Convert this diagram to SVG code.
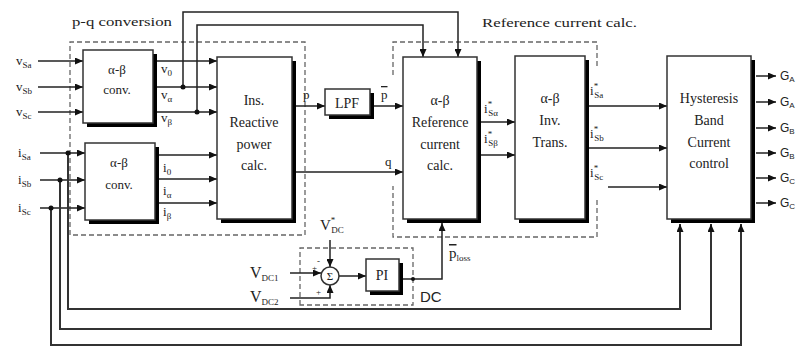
<svg xmlns="http://www.w3.org/2000/svg" width="804" height="348" viewBox="0 0 804 348">
<defs>
<marker id="ah" viewBox="0 0 8 7" refX="8" refY="3.5" markerWidth="8" markerHeight="7" markerUnits="userSpaceOnUse" orient="auto">
<path d="M0,0 L8,3.5 L0,7 z" fill="#111"/>
</marker>
<style>
text{font-family:"Liberation Serif","Times New Roman",serif;fill:#222}
.bt{font-size:14px;text-anchor:middle}
.ct{font-size:13px;text-anchor:middle}
.lb{font-size:13px}
.sb{font-size:9px}
.box{fill:#fff;stroke:#333;stroke-width:1.5}
.sh{fill:#000}
.ln{fill:none;stroke:#222;stroke-width:1.5}
.ar{fill:none;stroke:#222;stroke-width:1.5;marker-end:url(#ah)}
.fb{fill:none;stroke:#333;stroke-width:2;marker-end:url(#ah)}
.ds{fill:none;stroke:#666;stroke-width:1.3;stroke-dasharray:5,3}
.dot{fill:#111}
.sans{font-family:"Liberation Sans",Arial,sans-serif}
</style>
</defs>
<rect width="804" height="348" fill="#fff"/>

<g id="groups">
<path class="ds" d="M70,235 V42 H305 V235 Z"/>
<text class="lb" x="72" y="26" textLength="100" lengthAdjust="spacingAndGlyphs">p-q conversion</text>
<path class="ds" d="M393,75 V42 H597 V68 M597,200 V237 H393 V186"/>
<text class="lb" x="482" y="27" textLength="155" lengthAdjust="spacingAndGlyphs">Reference current calc.</text>
<path class="ds" d="M300,305 V248 H413 V305 Z"/>
<text class="sans" x="420" y="302" font-size="15" fill="#333">DC</text>
</g>

<g id="connectors">
<!-- voltage inputs -->
<path class="ar" d="M38,61 H83"/>
<path class="ar" d="M38,87 H83"/>
<path class="ar" d="M38,112 H83"/>
<!-- current inputs -->
<path class="ar" d="M40,153 H85"/>
<path class="ar" d="M40,180 H85"/>
<path class="ar" d="M40,208 H85"/>
<!-- conv1 outputs -->
<path class="ar" d="M157,61 H217"/>
<path class="ar" d="M157,87 H217"/>
<path class="ar" d="M157,112 H217"/>
<!-- conv2 outputs -->
<path class="ar" d="M159,155 H217"/>
<path class="ar" d="M159,179 H217"/>
<path class="ar" d="M159,203 H217"/>
<!-- voltage taps to reference calc -->
<path class="ar" d="M183,87 V12 H458 V57"/>
<path class="ar" d="M197,112 V25 H423 V57"/>
<circle class="dot" cx="183" cy="87" r="2.5"/>
<circle class="dot" cx="197" cy="112" r="2.5"/>
<!-- p, p-bar, q -->
<path class="ar" d="M296,106 H325"/>
<path class="ar" d="M374,106 H403"/>
<path class="ar" d="M296,172 H403"/>
<!-- reference outputs -->
<path class="ar" d="M481,122 H515"/>
<path class="ar" d="M481,155 H515"/>
<!-- inverse transform outputs -->
<path class="ar" d="M589,106 H667"/>
<path class="ar" d="M589,148 H667"/>
<path class="ar" d="M608,187 H667"/>
<!-- gate outputs -->
<path class="ar" d="M756,76 H776"/>
<path class="ar" d="M756,102 H776"/>
<path class="ar" d="M756,128 H776"/>
<path class="ar" d="M756,153 H776"/>
<path class="ar" d="M756,178 H776"/>
<path class="ar" d="M756,203 H776"/>
<!-- current feedback -->
<path class="fb" d="M68,153 V309 H680 V224"/>
<path class="fb" d="M60,180 V329 H711 V224"/>
<path class="fb" d="M51,208 V345 H741 V224"/>
<circle class="dot" cx="68" cy="153" r="2.5"/>
<circle class="dot" cx="60" cy="180" r="2.5"/>
<circle class="dot" cx="51" cy="208" r="2.5"/>
<!-- DC loop -->
<path class="ar" d="M330,240 V267"/>
<path class="ar" d="M290,273 H321"/>
<path class="ar" d="M290,298 H330 V285"/>
<path class="ar" d="M339,276 H366"/>
<path class="ar" d="M403,279 H442 V223"/>
<circle class="dot" cx="413" cy="279" r="2"/>
</g>

<g id="labels">
<text class="lb" x="16" y="65">v<tspan class="sb" dy="3">Sa</tspan></text>
<text class="lb" x="16" y="91">v<tspan class="sb" dy="3">Sb</tspan></text>
<text class="lb" x="16" y="116">v<tspan class="sb" dy="3">Sc</tspan></text>
<text class="lb" x="18" y="157">i<tspan class="sb" dy="3">Sa</tspan></text>
<text class="lb" x="18" y="184">i<tspan class="sb" dy="3">Sb</tspan></text>
<text class="lb" x="18" y="212">i<tspan class="sb" dy="3">Sc</tspan></text>
<text class="lb" x="161" y="73">v<tspan class="sb" dy="3">0</tspan></text>
<text class="lb" x="161" y="99">v<tspan class="sb" dy="3">α</tspan></text>
<text class="lb" x="161" y="122">v<tspan class="sb" dy="3">β</tspan></text>
<text class="lb" x="163" y="172">i<tspan class="sb" dy="3">0</tspan></text>
<text class="lb" x="163" y="195">i<tspan class="sb" dy="3">α</tspan></text>
<text class="lb" x="163" y="216">i<tspan class="sb" dy="3">β</tspan></text>
<text class="lb" x="303" y="99">p</text>
<text class="lb" x="381" y="99" style="text-decoration:overline">p</text>
<text class="lb" x="385" y="166">q</text>
<text class="lb" x="484" y="113">i<tspan class="sb" dy="-6">*</tspan><tspan class="sb" dx="-4" dy="9">Sα</tspan></text>
<text class="lb" x="484" y="143">i<tspan class="sb" dy="-6">*</tspan><tspan class="sb" dx="-4" dy="9">Sβ</tspan></text>
<text class="lb" x="590" y="95">i<tspan class="sb" dy="-6">*</tspan><tspan class="sb" dx="-4" dy="9">Sa</tspan></text>
<text class="lb" x="590" y="138">i<tspan class="sb" dy="-6">*</tspan><tspan class="sb" dx="-4" dy="9">Sb</tspan></text>
<text class="lb" x="590" y="177">i<tspan class="sb" dy="-6">*</tspan><tspan class="sb" dx="-4" dy="9">Sc</tspan></text>
<text x="320" y="230" font-size="15">V<tspan class="sb" dy="-7">*</tspan><tspan class="sb" dx="-4" dy="10">DC</tspan></text>
<text x="250" y="278" font-size="16">V<tspan class="sb" dy="3">DC1</tspan></text>
<text x="250" y="302" font-size="16">V<tspan class="sb" dy="3">DC2</tspan></text>
<text x="317" y="264" font-size="9">-</text>
<text x="312" y="271" font-size="9">+</text>
<text x="316" y="295" font-size="9">+</text>
<text x="449" y="258" font-size="15"><tspan style="text-decoration:overline">p</tspan><tspan class="sb" dy="3">loss</tspan></text>
<text class="sans" x="780" y="80" font-size="12">G<tspan font-size="8" dy="2">A</tspan></text>
<text class="sans" x="780" y="106" font-size="12">G<tspan font-size="8" dy="2">A</tspan></text>
<text class="sans" x="780" y="132" font-size="12">G<tspan font-size="8" dy="2">B</tspan></text>
<text class="sans" x="780" y="157" font-size="12">G<tspan font-size="8" dy="2">B</tspan></text>
<text class="sans" x="780" y="182" font-size="12">G<tspan font-size="8" dy="2">C</tspan></text>
<text class="sans" x="780" y="207" font-size="12">G<tspan font-size="8" dy="2">C</tspan></text>
</g>

<g id="conv1">
<rect class="sh" x="87" y="54" width="70" height="73"/>
<rect class="box" x="83" y="50" width="70" height="73"/>
<text class="ct" x="117" y="74">α-β</text>
<text class="ct" x="117" y="94">conv.</text>
</g>
<g id="conv2">
<rect class="sh" x="89" y="147" width="70" height="77"/>
<rect class="box" x="85" y="143" width="70" height="77"/>
<text class="ct" x="119" y="167">α-β</text>
<text class="ct" x="119" y="189">conv.</text>
</g>
<g id="inst">
<rect class="sh" x="221" y="61" width="75" height="162"/>
<rect class="box" x="217" y="57" width="75" height="162"/>
<text class="bt" x="254" y="105">Ins.</text>
<text class="bt" x="254" y="127">Reactive</text>
<text class="bt" x="254" y="149">power</text>
<text class="bt" x="254" y="170">calc.</text>
</g>
<g id="lpf">
<rect class="sh" x="329" y="93" width="45" height="26"/>
<rect class="box" x="325" y="89" width="45" height="26"/>
<text class="bt" x="347" y="108" font-size="16">LPF</text>
</g>
<g id="refcalc">
<rect class="sh" x="407" y="61" width="74" height="162"/>
<rect class="box" x="403" y="57" width="74" height="162"/>
<text class="bt" x="440" y="105">α-β</text>
<text class="bt" x="440" y="127">Reference</text>
<text class="bt" x="440" y="149">current</text>
<text class="bt" x="440" y="170">calc.</text>
</g>
<g id="invtrans">
<rect class="sh" x="519" y="60" width="70" height="163"/>
<rect class="box" x="515" y="56" width="70" height="163"/>
<text class="bt" x="550" y="103">α-β</text>
<text class="bt" x="550" y="125">Inv.</text>
<text class="bt" x="550" y="147">Trans.</text>
</g>
<g id="hysteresis">
<rect class="sh" x="671" y="60" width="84" height="163"/>
<rect class="box" x="667" y="56" width="84" height="163"/>
<text class="bt" x="709" y="103">Hysteresis</text>
<text class="bt" x="709" y="125">Band</text>
<text class="bt" x="709" y="147">Current</text>
<text class="bt" x="709" y="168">control</text>
</g>
<g id="sum">
<circle cx="330" cy="276" r="9" fill="#fff" stroke="#333" stroke-width="1.5"/>
<text x="330" y="280" font-size="11" text-anchor="middle">Σ</text>
</g>
<g id="pi">
<rect class="sh" x="370" y="263" width="33" height="32"/>
<rect class="box" x="366" y="259" width="33" height="32"/>
<text class="bt" x="382" y="280">PI</text>
</g>
</svg>
